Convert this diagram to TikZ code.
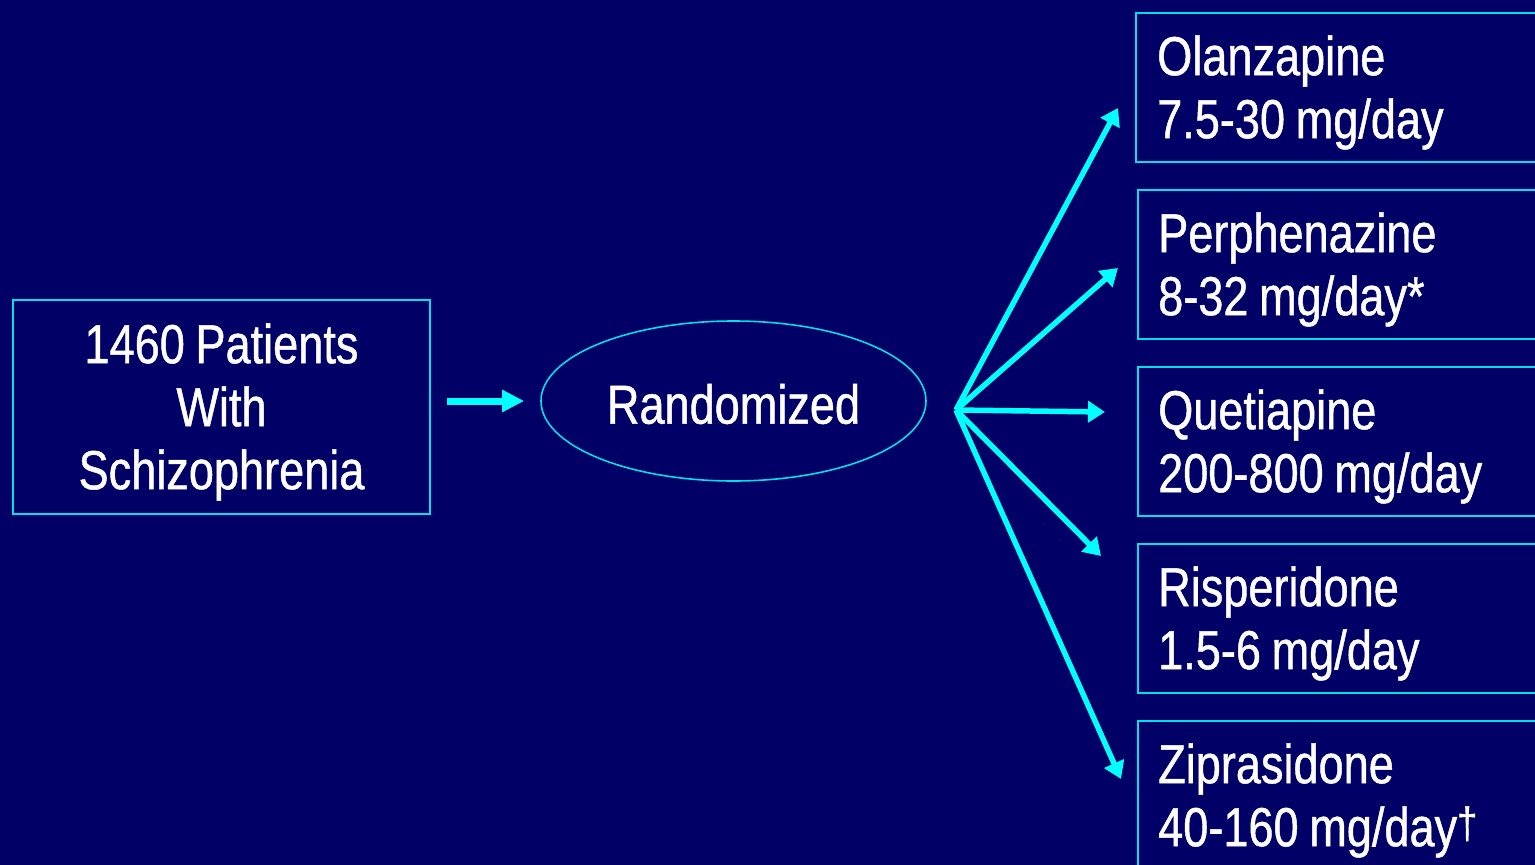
\documentclass[tikz,border=0pt]{standalone}
\usepackage{fontspec}
\setmainfont[FakeStretch=0.82,WordSpace=0.85,FakeBold=0.8]{Liberation Sans}
\usetikzlibrary{arrows.meta,shapes.geometric}
\definecolor{bgblue}{RGB}{0,0,102}
\definecolor{edgecyan}{RGB}{0,224,232}
\definecolor{arrcyan}{RGB}{0,255,255}
\newcommand{\mydagger}{\raisebox{8pt}{\fontsize{44}{44}\selectfont †}}
\tikzset{
  txt/.style={text=white,font=\fontsize{55}{63}\selectfont,inner sep=0pt},
  leftbox/.style={draw=edgecyan,line width=2pt,rectangle,minimum width=417pt,minimum height=214pt,inner sep=0pt},
  randell/.style={draw=edgecyan,line width=1.6pt,ellipse,minimum width=385pt,minimum height=160pt,inner sep=0pt},
  drugbox/.style={draw=edgecyan,line width=2pt,rectangle,anchor=north west,minimum width=442pt,minimum height=149pt,inner sep=0pt},
  drugtxt/.style={txt,anchor=west,align=left},
  arr/.style={draw=arrcyan,line width=5.5pt,-{Triangle[length=17pt,width=21pt]}},
  bigarr/.style={draw=arrcyan,line width=7pt,-{Triangle[length=22pt,width=21pt]}}
}
\begin{document}
\begin{tikzpicture}[x=1pt,y=-1pt]
\useasboundingbox (0,0) rectangle (1535,865);
\fill[bgblue] (0,0) rectangle (1535,865);
\clip (0,0) rectangle (1535,865);
\node[leftbox] (pat) at (221.5,407) {};
\node[txt,align=center] (patT) at ([yshift=-5pt]pat.center) {1460 Patients\\With\\Schizophrenia};
\node[randell] (rand) at (733.5,401) {};
\node[txt] (randT) at ([yshift=-3pt]rand.center) {Randomized};
\node[drugbox] (olan) at (1135,12) {};
\node[drugbox] (perph) at (1137,189) {};
\node[drugbox] (quet) at (1137,366) {};
\node[drugbox] (risp) at (1137,543) {};
\node[drugbox] (zip) at (1137,720) {};
\node[drugtxt] (olanT) at ([xshift=22pt,yshift=-5pt]olan.west) {Olanzapine\\7.5-30 mg/day};
\node[drugtxt] (perphT) at ([xshift=21pt,yshift=-5pt]perph.west) {Perphenazine\\8-32 mg/day*};
\node[drugtxt] (quetT) at ([xshift=21pt,yshift=-5pt]quet.west) {Quetiapine\\200-800 mg/day};
\node[drugtxt] (rispT) at ([xshift=21pt,yshift=-5pt]risp.west) {Risperidone\\1.5-6 mg/day};
\node[drugtxt] (zipT) at ([xshift=21pt,yshift=-5pt]zip.west) {Ziprasidone\\40-160 mg/day\mydagger};
\coordinate (fan) at (956,410);
\coordinate (t1) at (1118,108);
\coordinate (t2) at (1118,268);
\coordinate (t3) at (1105,412);
\coordinate (t4) at (1101,556);
\coordinate (t5) at (1121,779);
\draw[bigarr,shorten <=16pt,shorten >=16pt] (pat.east |- rand.west) -- (rand.west);
\draw[arr] (fan) -- (t1);
\draw[arr] (fan) -- (t2);
\draw[arr] (fan) -- (t3);
\draw[arr] (fan) -- (t4);
\draw[arr] (fan) -- (t5);
\end{tikzpicture}
\end{document}
